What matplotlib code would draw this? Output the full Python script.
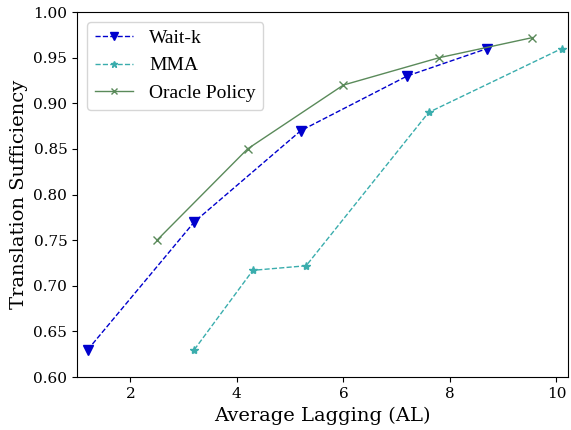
import matplotlib
matplotlib.use("Agg")
import matplotlib.pyplot as plt

plt.rcParams['font.family'] = ['DejaVu Serif']

waitk_x = [1.2, 3.2, 5.2, 7.2, 8.7]
waitk_y = [0.63, 0.77, 0.87, 0.93, 0.96]
mma_x = [3.2, 4.3, 5.3, 7.6, 10.1]
mma_y = [0.63, 0.717, 0.722, 0.89, 0.96]
oracle_x = [2.5, 4.2, 6.0, 7.8, 9.55]
oracle_y = [0.75, 0.85, 0.92, 0.95, 0.972]

fig = plt.figure(figsize=(5.71, 4.30), dpi=100)
ax = fig.add_axes([0.135, 0.123, 0.86, 0.849])
ax.plot(waitk_x, waitk_y, linestyle='--', marker='v', color='#0000CD', markersize=7, linewidth=1.0, label='Wait-k')
ax.plot(mma_x, mma_y, linestyle='--', marker='*', color='#3aadad', markersize=6, linewidth=1.0, label='MMA')
ax.plot(oracle_x, oracle_y, linestyle='-', marker='x', color='#5a8a5a', markersize=6, linewidth=1.0, label='Oracle Policy')
ax.set_xlim(1.0, 10.22)
ax.set_ylim(0.60, 1.00)
ax.set_xticks([2, 4, 6, 8, 10])
ax.set_yticks([0.60, 0.65, 0.70, 0.75, 0.80, 0.85, 0.90, 0.95, 1.00])
ax.tick_params(labelsize=11)
ax.set_xlabel('Average Lagging (AL)', fontsize=14)
ax.set_ylabel('Translation Sufficiency', fontsize=14)
ax.legend(loc='upper left', markerscale=0.75, prop={'family': ['Liberation Serif'], 'size': 14})
fig.savefig('out.png', dpi=100)
